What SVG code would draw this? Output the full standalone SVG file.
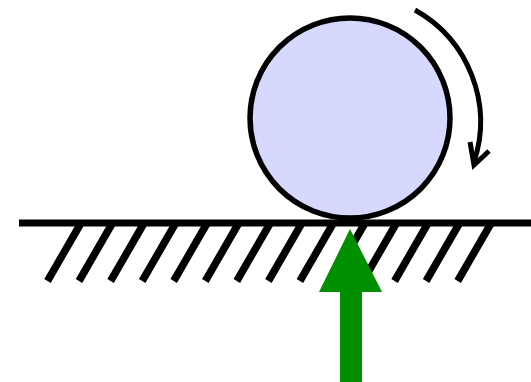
<svg xmlns="http://www.w3.org/2000/svg" width="531" height="382" viewBox="0 0 531 382">
<style>
.hatch{stroke:#000;stroke-width:7.5;fill:none}
.ink{stroke:#000;fill:none}
</style>
<rect width="531" height="382" fill="#fff"/>
<g id="ground">
<g class="hatch">
<line x1="47.5" y1="281" x2="81" y2="223"/>
<line x1="79" y1="281" x2="112.5" y2="223"/>
<line x1="110.6" y1="281" x2="144.1" y2="223"/>
<line x1="142.2" y1="281" x2="175.7" y2="223"/>
<line x1="173.7" y1="281" x2="207.2" y2="223"/>
<line x1="205.3" y1="281" x2="238.8" y2="223"/>
<line x1="236.8" y1="281" x2="270.3" y2="223"/>
<line x1="268.4" y1="281" x2="301.9" y2="223"/>
<line x1="299.9" y1="281" x2="333.4" y2="223"/>
<line x1="331.5" y1="281" x2="365" y2="223"/>
<line x1="363" y1="281" x2="396.5" y2="223"/>
<line x1="394.6" y1="281" x2="428.1" y2="223"/>
<line x1="426.1" y1="281" x2="459.6" y2="223"/>
<line x1="457.7" y1="281" x2="491.2" y2="223"/>
</g>
<line class="ink" x1="19" y1="223" x2="531" y2="223" stroke-width="7"/>
</g>
<g id="wheel">
<circle cx="350" cy="118" r="100" fill="#d6d8fd" stroke="#000" stroke-width="5.5"/>
</g>
<g id="connectors">
<path class="ink" d="M415 10 A128 128 0 0 1 474 162" stroke-width="5"/>
<polyline class="ink" points="470,142 474,165 489,151" stroke-width="5" stroke-linejoin="miter"/>
<path d="M350 229 L382 292 L362 292 L362 382 L340 382 L340 292 L319 292 Z" fill="#008f00"/>
</g>
</svg>
